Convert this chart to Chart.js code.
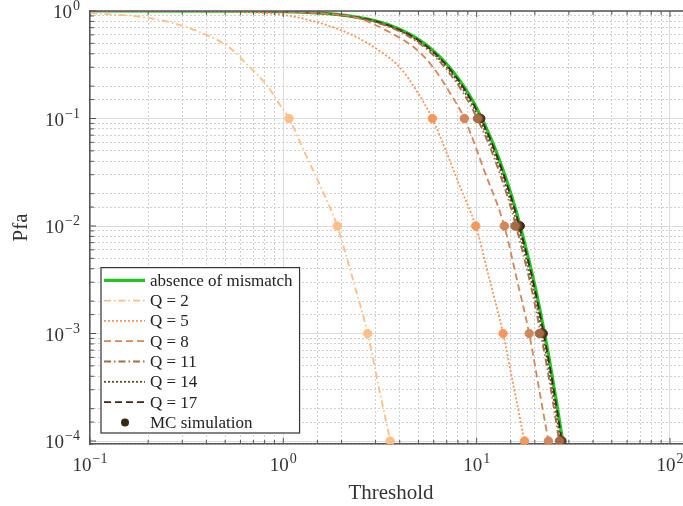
<!DOCTYPE html>
<html>
<head>
<meta charset="utf-8">
<script src="https://cdn.jsdelivr.net/npm/chart.js@4.4.1/dist/chart.umd.min.js"></script>
<style>
  html, body { margin: 0; padding: 0; background: #fff; overflow: hidden; }
  #wrap { width: 700px; height: 506px; }
</style>
</head>
<body>
<div id="wrap"><canvas id="pfa-chart" width="700" height="506"></canvas></div>
<script>
// curve values (threshold -> Pfa)
const cleanThreshold = [0.1, 0.5, 1, 1.5, 2, 3, 4, 5, 6, 7, 8, 9, 10, 12, 14, 16, 18, 20, 22, 24, 26, 28];
const cleanPfa = [1.0, 0.998, 0.986, 0.96, 0.92, 0.809, 0.677, 0.544, 0.423, 0.321, 0.238, 0.174, 0.125, 0.062, 0.0296, 0.0138, 0.0062, 0.0028, 0.00121, 0.00052, 0.00022, 0.000094];

const q2Threshold = [0.1, 0.18, 0.27, 0.4, 0.53, 0.67, 0.82, 0.96, 1.07, 1.3, 1.6, 1.9, 2.3, 2.73, 3.15, 3.6];
const q2Pfa = [0.955, 0.885, 0.77, 0.6, 0.453, 0.3, 0.205, 0.134, 0.1, 0.047, 0.021, 0.01, 0.0031, 0.001, 0.00029, 0.000094];

const q5Threshold = [0.1, 0.3, 0.6, 1.0, 1.6, 2.4, 3.3, 4.0, 4.9, 5.9, 7.0, 8.3, 9.89, 11.6, 13.7, 15.6, 17.8];
const q5Pfa = [0.999, 0.996, 0.978, 0.92, 0.76, 0.57, 0.40, 0.30, 0.18, 0.1, 0.048, 0.022, 0.01, 0.0033, 0.001, 0.00031, 0.000094];

const q8Threshold = [0.1, 0.5, 1.0, 1.6, 2.41, 3.57, 4.92, 5.94, 7.28, 8.64, 11.0, 13.9, 16.2, 18.7, 21.0, 23.7];
const q8Pfa = [1.0, 0.998, 0.985, 0.95, 0.861, 0.63, 0.434, 0.301, 0.173, 0.1, 0.032, 0.01, 0.0031, 0.001, 0.00031, 0.000092];

// Q = 11, 14, 17 sit almost on the clean curve
const nearCleanPfa = [1.0, 0.998, 0.986, 0.96, 0.92, 0.809, 0.677, 0.544, 0.423, 0.321, 0.238, 0.174, 0.125, 0.062, 0.0296, 0.0138, 0.0062, 0.0028, 0.00121, 0.00052, 0.00022, 0.000094];
const q11Threshold = [0.1, 0.47, 0.94, 1.41, 1.88, 2.83, 3.77, 4.72, 5.67, 6.61, 7.56, 8.5, 9.46, 11.36, 13.27, 15.2, 17.1, 19.05, 21.0, 22.95, 24.9, 26.85];
const q14Threshold = [0.1, 0.48, 0.96, 1.45, 1.93, 2.9, 3.86, 4.83, 5.8, 6.77, 7.74, 8.71, 9.68, 11.62, 13.57, 15.52, 17.48, 19.44, 21.4, 23.36, 25.33, 27.3];
const q17Threshold = [0.1, 0.49, 0.98, 1.48, 1.97, 2.95, 3.94, 4.93, 5.91, 6.9, 7.89, 8.88, 9.87, 11.85, 13.83, 15.82, 17.8, 19.78, 21.77, 23.76, 25.75, 27.7];

// MC simulation points
const mcPfa = [0.1, 0.01, 0.001, 0.0001];
const mcQ2 = [1.07, 1.90, 2.73, 3.57];
const mcQ5 = [5.9, 9.89, 13.7, 17.7];
const mcQ8 = [8.64, 13.9, 18.7, 23.5];
const mcQ11 = [10.1, 15.8, 21.1, 26.8];
const mcQ14 = [10.3, 16.3, 21.6, 27.2];
const mcQ17 = [10.5, 16.8, 22.1, 27.6];

const xTicks = [0.1, 1, 10, 100];
const yTicks = [1, 0.1, 0.01, 0.001, 0.0001];

const serif = '"Liberation Serif", "Times New Roman", serif';
const pts = (xs, ys) => xs.map((x, i) => ({ x: x, y: ys[i] }));
const isDecade = v => { const l = Math.log10(v); return Math.abs(l - Math.round(l)) < 1e-6; };
const expOf = v => String(Math.round(Math.log10(v))).replace('-', '\u2212');

const colors = {
  clean: '#22c322', q2: '#fdbf86', q5: '#f8975b', q8: '#d2875a',
  q11: '#a76a44', q14: '#6d4327', q17: '#3b2616'
};

function curve(label, xs, ys, color, dash, width) {
  return {
    label: label, data: pts(xs, ys), borderColor: color, backgroundColor: color,
    borderWidth: width || 1.8, borderDash: dash, pointRadius: 0, fill: false,
    cubicInterpolationMode: 'monotone', order: 1, inLegend: true
  };
}
function mc(xs, color, label) {
  return {
    label: label || '', data: pts(xs, mcPfa), showLine: false, pointRadius: 4.2,
    pointBackgroundColor: color, pointBorderColor: color, borderColor: color, backgroundColor: color,
    order: 0, inLegend: !!label, marker: true
  };
}

const datasets = [
  Object.assign(curve('absence of mismatch', cleanThreshold, cleanPfa, colors.clean, [], 3.2), { order: 2 }),
  curve('Q = 2', q2Threshold, q2Pfa, colors.q2, [7, 3, 1.5, 3]),
  curve('Q = 5', q5Threshold, q5Pfa, colors.q5, [2, 2]),
  curve('Q = 8', q8Threshold, q8Pfa, colors.q8, [7, 4]),
  curve('Q = 11', q11Threshold, nearCleanPfa, colors.q11, [7, 3, 1.5, 3]),
  curve('Q = 14', q14Threshold, nearCleanPfa, colors.q14, [2, 2]),
  curve('Q = 17', q17Threshold, nearCleanPfa, colors.q17, [7, 4]),
  mc(mcQ2, colors.q2),
  mc(mcQ5, colors.q5),
  mc(mcQ8, colors.q8),
  mc(mcQ11, colors.q11),
  mc(mcQ14, colors.q14),
  mc(mcQ17, colors.q17, 'MC simulation')
];

// box around the plot and small inward ticks
const frame = {
  id: 'frame',
  afterDatasetsDraw(chart) {
    const { ctx, chartArea: a, scales } = chart;
    ctx.save();
    ctx.strokeStyle = '#555';
    ctx.lineWidth = 1;
    scales.x.ticks.forEach(t => {
      const px = scales.x.getPixelForValue(t.value);
      const len = isDecade(t.value) ? 6 : 4;
      ctx.beginPath();
      ctx.moveTo(px, a.bottom); ctx.lineTo(px, a.bottom - len);
      ctx.moveTo(px, a.top); ctx.lineTo(px, a.top + len);
      ctx.stroke();
    });
    scales.y.ticks.forEach(t => {
      const py = scales.y.getPixelForValue(t.value);
      const len = isDecade(t.value) ? 6 : 4;
      ctx.beginPath();
      ctx.moveTo(a.left, py); ctx.lineTo(a.left + len, py);
      ctx.moveTo(a.right, py); ctx.lineTo(a.right - len, py);
      ctx.stroke();
    });
    ctx.lineWidth = 1.5;
    ctx.beginPath();
    ctx.moveTo(a.left, a.top); ctx.lineTo(a.right, a.top); ctx.lineTo(a.right, a.bottom);
    ctx.stroke();
    ctx.restore();
  }
};

// decade labels 10^n with a raised exponent
const powerLabels = {
  id: 'powerLabels',
  afterDraw(chart) {
    const { ctx, scales, chartArea: a } = chart;
    const base = '19px ' + serif, sup = '14px ' + serif;
    ctx.save();
    ctx.fillStyle = '#333';
    ctx.textBaseline = 'alphabetic';
    ctx.textAlign = 'left';
    const draw = (v, anchorX, baseY, align) => {
      const e = expOf(v);
      ctx.font = base; const wb = ctx.measureText('10').width;
      ctx.font = sup; const we = ctx.measureText(e).width;
      const total = wb + 1 + we;
      const x0 = align === 'center' ? anchorX - total / 2 : anchorX - total;
      ctx.font = base; ctx.fillText('10', x0, baseY);
      ctx.font = sup; ctx.fillText(e, x0 + wb + 1, baseY - 8);
    };
    xTicks.forEach(v => draw(v, scales.x.getPixelForValue(v), a.bottom + 27, 'center'));
    yTicks.forEach(v => draw(v, a.left - 10, scales.y.getPixelForValue(v) + 7, 'right'));
    ctx.restore();
  }
};

// legend inside the plot, lower left
const legendBox = {
  id: 'legendBox',
  afterDraw(chart) {
    const { ctx, chartArea: a } = chart;
    const items = chart.data.datasets.filter(d => d.inLegend);
    const rowH = 20.3;
    const font = '17px ' + serif;
    ctx.save();
    ctx.font = font;
    const textW = Math.max(...items.map(d => ctx.measureText(d.label).width));
    const left = a.left + 11;
    const bottom = a.bottom - 11;
    const h = items.length * rowH + 3;
    const top = bottom - h;
    const w = 49 + textW + 7;
    ctx.fillStyle = '#fff';
    ctx.fillRect(left, top, w, h);
    ctx.strokeStyle = '#333';
    ctx.lineWidth = 1.2;
    ctx.strokeRect(left, top, w, h);
    items.forEach((d, i) => {
      const cy = top + 12.7 + i * rowH;
      if (d.marker) {
        ctx.fillStyle = d.pointBackgroundColor;
        ctx.beginPath();
        ctx.arc(left + 24, cy, 4, 0, Math.PI * 2);
        ctx.fill();
      } else {
        ctx.strokeStyle = d.borderColor;
        ctx.lineWidth = d.borderWidth;
        ctx.setLineDash(d.borderDash || []);
        ctx.beginPath();
        ctx.moveTo(left + 3, cy); ctx.lineTo(left + 44, cy);
        ctx.stroke();
        ctx.setLineDash([]);
      }
      ctx.fillStyle = '#222';
      ctx.textBaseline = 'middle';
      ctx.textAlign = 'left';
      ctx.fillText(d.label, left + 49, cy + 1);
    });
    ctx.restore();
  }
};

const ctx = document.getElementById('pfa-chart').getContext('2d');
const chart = new Chart(ctx, {
  type: 'line',
  data: { datasets: datasets },
  plugins: [frame, powerLabels, legendBox],
  options: {
    responsive: false,
    animation: false,
    layout: { padding: { top: 11, right: 8, left: 0, bottom: 0 } },
    plugins: { legend: { display: false }, tooltip: { enabled: false } },
    scales: {
      x: {
        type: 'logarithmic', min: 0.1, max: 130, position: 'bottom',
        afterFit: s => { s.height = 62; s.paddingLeft = 0; s.paddingRight = 0; },
        grid: { color: c => (c.tick && isDecade(c.tick.value)) ? '#dcdcdc' : 'rgba(0,0,0,0)', drawTicks: false },
        border: { color: '#555', width: 1.5 },
        ticks: { display: false, autoSkip: false },
        title: { display: true, text: 'Threshold', color: '#333', font: { family: serif, size: 21 }, padding: { top: 4, bottom: 0 } }
      },
      xMinor: {
        type: 'logarithmic', min: 0.1, max: 130, position: 'bottom',
        afterFit: s => { s.height = 0; s.paddingLeft = 0; s.paddingRight = 0; },
        ticks: { display: false },
        grid: { color: c => (c.tick && isDecade(c.tick.value)) ? 'rgba(0,0,0,0)' : '#d0d0d0', drawTicks: false },
        border: { display: false, dash: [2, 2] }
      },
      y: {
        type: 'logarithmic', min: 0.938e-4, max: 1, position: 'left',
        afterFit: s => { s.width = 90; s.paddingTop = 0; s.paddingBottom = 0; },
        grid: { color: c => (c.tick && isDecade(c.tick.value)) ? '#dcdcdc' : 'rgba(0,0,0,0)', drawTicks: false },
        border: { color: '#555', width: 1.5 },
        ticks: { display: false, autoSkip: false },
        title: { display: true, text: 'Pfa', color: '#333', font: { family: serif, size: 21 }, padding: { top: 9, bottom: 0 } }
      },
      yMinor: {
        type: 'logarithmic', min: 0.938e-4, max: 1, position: 'left',
        afterFit: s => { s.width = 0; s.paddingTop = 0; s.paddingBottom = 0; },
        ticks: { display: false },
        grid: { color: c => (c.tick && isDecade(c.tick.value)) ? 'rgba(0,0,0,0)' : '#d0d0d0', drawTicks: false },
        border: { display: false, dash: [2, 2] }
      }
    }
  }
});
</script>
</body>
</html>
